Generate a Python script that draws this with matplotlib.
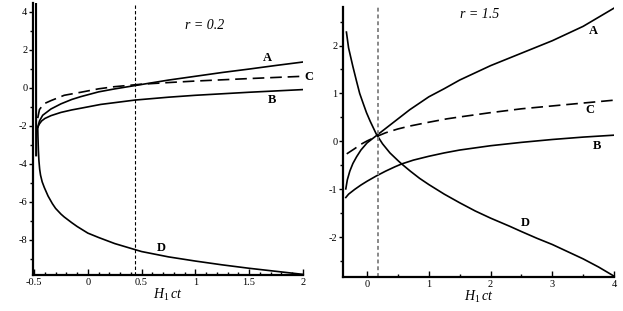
import matplotlib
matplotlib.use('Agg')
import matplotlib.pyplot as plt
from matplotlib.ticker import MultipleLocator

plt.rcParams['font.family'] = ['Liberation Serif', 'DejaVu Serif']
plt.rcParams['axes.unicode_minus'] = False
plt.rcParams['mathtext.fontset'] = 'custom'
plt.rcParams['mathtext.rm'] = 'Liberation Serif'
plt.rcParams['mathtext.it'] = 'Liberation Serif:italic'

# left panel, r = 0.2
xA_l = [-0.466, -0.45, -0.42, -0.343, -0.25, -0.15, -0.065, 0.1, 0.243, 0.49, 0.75, 1.0, 1.25, 1.5, 1.75, 2.0]
yA_l = [-2.08, -1.75, -1.45, -1.12, -0.85, -0.62, -0.47, -0.22, -0.07, 0.16, 0.4, 0.6, 0.8, 0.98, 1.17, 1.35]
xB_l = [-0.466, -0.45, -0.43, -0.4, -0.343, -0.25, -0.15, -0.065, 0.12, 0.44, 0.75, 1.0, 1.5, 2.0]
yB_l = [-2.08, -1.9, -1.75, -1.62, -1.47, -1.3, -1.17, -1.08, -0.88, -0.65, -0.5, -0.4, -0.24, -0.1]
xC_l = [-0.466, -0.45, -0.41, -0.343, -0.22, -0.065, 0.1, 0.243, 0.49, 0.75, 1.0, 1.5, 2.0]
yC_l = [-1.6, -1.15, -0.85, -0.68, -0.4, -0.24, -0.06, 0.05, 0.18, 0.27, 0.35, 0.48, 0.6]
xD_l = [-0.466, -0.464, -0.46, -0.455, -0.448, -0.44, -0.425, -0.405, -0.37, -0.33, -0.3, -0.25,
        -0.22, -0.15, -0.1, 0, 0.1, 0.25, 0.44, 0.5, 0.75, 1.0, 1.25, 1.5, 1.75, 2.0]
yD_l = [-2.08, -2.6, -3.3, -3.85, -4.3, -4.6, -4.95, -5.25, -5.7, -6.1, -6.35, -6.65,
        -6.8, -7.1, -7.3, -7.65, -7.88, -8.2, -8.52, -8.62, -8.9, -9.12, -9.32, -9.5, -9.66, -9.82]
x_branch = [-0.482, -0.481]
y_branch = [4.4, -3.56]
x_mark_l = 0.435

# right panel, r = 1.5
xA_r = [-0.345, -0.32, -0.28, -0.23, -0.17, -0.1, 0, 0.1, 0.2, 0.3, 0.48, 0.69, 1.0, 1.25, 1.5, 2.0, 2.5, 3.0, 3.5, 4.0]
yA_r = [-0.99, -0.8, -0.62, -0.46, -0.32, -0.18, -0.03, 0.07, 0.17, 0.27, 0.45, 0.66, 0.93, 1.1, 1.28, 1.58, 1.84, 2.1, 2.4, 2.78]
xB_r = [-0.345, -0.3, -0.2, -0.1, 0, 0.15, 0.3, 0.45, 0.56, 0.75, 1.0, 1.25, 1.5, 2.0, 2.5, 3.0, 3.5, 4.0]
yB_r = [-1.17, -1.1, -1.0, -0.91, -0.83, -0.72, -0.62, -0.53, -0.47, -0.39, -0.31, -0.24, -0.18, -0.09, -0.02, 0.04, 0.09, 0.13]
xC_r = [-0.33, -0.2, -0.1, 0.0, 0.15, 0.3, 0.5, 0.69, 1.0, 1.29, 1.5, 2.0, 2.5, 3.0, 3.5, 4.0]
yC_r = [-0.26, -0.15, -0.06, 0.01, 0.1, 0.18, 0.26, 0.32, 0.4, 0.47, 0.51, 0.6, 0.68, 0.74, 0.8, 0.86]
xD_r = [-0.335, -0.3, -0.23, -0.17, -0.12, -0.06, -0.01, 0.05, 0.15, 0.25, 0.37, 0.5, 0.56, 0.7, 0.85,
        1.0, 1.25, 1.5, 1.75, 2.0, 2.31, 2.5, 2.75, 3.0, 3.25, 3.5, 3.75, 4.0]
yD_r = [2.28, 1.95, 1.56, 1.25, 1.0, 0.78, 0.6, 0.42, 0.15, -0.05, -0.24, -0.4, -0.47, -0.62, -0.77,
        -0.9, -1.1, -1.28, -1.45, -1.6, -1.77, -1.88, -2.02, -2.15, -2.3, -2.45, -2.62, -2.81]
x_mark_r = 0.17

fig = plt.figure(figsize=(6.23, 3.11), dpi=100)
ax1 = fig.add_axes([0.053, 0.116, 0.433, 0.874])
ax2 = fig.add_axes([0.5506, 0.109, 0.435, 0.868])

lw = 1.2
ax1.plot(xA_l, yA_l, 'k-', lw=lw)
ax1.plot(xB_l, yB_l, 'k-', lw=lw)
ax1.plot(xC_l, yC_l, 'k', lw=lw, dashes=(7, 3.5))
ax1.plot(xD_l, yD_l, 'k-', lw=lw)
ax1.plot(x_branch, y_branch, 'k-', lw=1.5)
ax1.axvline(x_mark_l, color='k', lw=0.8, ls=(0, (3, 2)))
ax1.set_xlim(-0.51, 2.0)
ax1.set_ylim(-9.85, 4.45)
ax1.xaxis.set_minor_locator(MultipleLocator(0.1))
ax1.yaxis.set_minor_locator(MultipleLocator(1))
ax1.set_xticks([-0.5, 0, 0.5, 1, 1.5, 2])
ax1.set_xticklabels(['-0.5', '0', '0.5', '1', '1.5', '2'])
ax1.set_yticks([-8, -6, -4, -2, 0, 2, 4])
ax1.set_yticklabels(['-8', '-6', '-4', '-2', '0', '2', '4'])

tb = dict(fontsize=9, fontweight='bold', clip_on=False)
ax1.text(1.67, 1.55, 'A', ha='center', va='center', **tb)
ax1.text(2.06, 0.55, 'C', ha='center', va='center', **tb)
ax1.text(1.71, -0.63, 'B', ha='center', va='center', **tb)
ax1.text(0.68, -8.45, 'D', ha='center', va='center', **tb)
ax1.text(1.09, 3.25, 'r = 0.2', ha='center', va='center', fontsize=10, style='italic')
ax1.set_xlabel('$H_1\\,ct$', fontsize=10, labelpad=0)

ax2.plot(xA_r, yA_r, 'k-', lw=lw)
ax2.plot(xB_r, yB_r, 'k-', lw=lw)
ax2.plot(xC_r, yC_r, 'k', lw=lw, dashes=(7, 3.5))
ax2.plot(xD_r, yD_r, 'k-', lw=lw)
ax2.axvline(x_mark_r, color='#888888', lw=1.4, ls=(0, (2, 1.5)))
ax2.set_xlim(-0.39, 4.0)
ax2.set_ylim(-2.83, 2.8)
ax2.set_xticks([0, 1, 2, 3, 4])
ax2.xaxis.set_minor_locator(MultipleLocator(0.5))
ax2.set_yticks([-2, -1, 0, 1, 2])
ax2.set_yticklabels(['-2', '-1', '0', '1', '2'])
ax2.yaxis.set_minor_locator(MultipleLocator(0.5))

ax2.text(3.66, 2.31, 'A', ha='center', va='center', **tb)
ax2.text(3.61, 0.65, 'C', ha='center', va='center', **tb)
ax2.text(3.72, -0.1, 'B', ha='center', va='center', **tb)
ax2.text(2.57, -1.7, 'D', ha='center', va='center', **tb)
ax2.text(1.83, 2.64, 'r = 1.5', ha='center', va='center', fontsize=10, style='italic')
ax2.set_xlabel('$H_1\\,ct$', fontsize=10, labelpad=0)

for ax in (ax1, ax2):
    ax.spines['top'].set_visible(False)
    ax.spines['right'].set_visible(False)
    ax.spines['left'].set_linewidth(1.6)
    ax.spines['bottom'].set_linewidth(1.6)
    ax.tick_params(axis='x', which='both', direction='in', labelsize=7.5, pad=2)
    ax.tick_params(axis='x', which='major', length=4, width=1)
    ax.tick_params(axis='x', which='minor', length=2.5, width=1)
    ax.tick_params(axis='y', which='both', direction='out', labelsize=7.5, pad=1)
    ax.tick_params(axis='y', which='major', length=3, width=1)
    ax.tick_params(axis='y', which='minor', length=2, width=1)

fig.savefig('out.png', dpi=100)
